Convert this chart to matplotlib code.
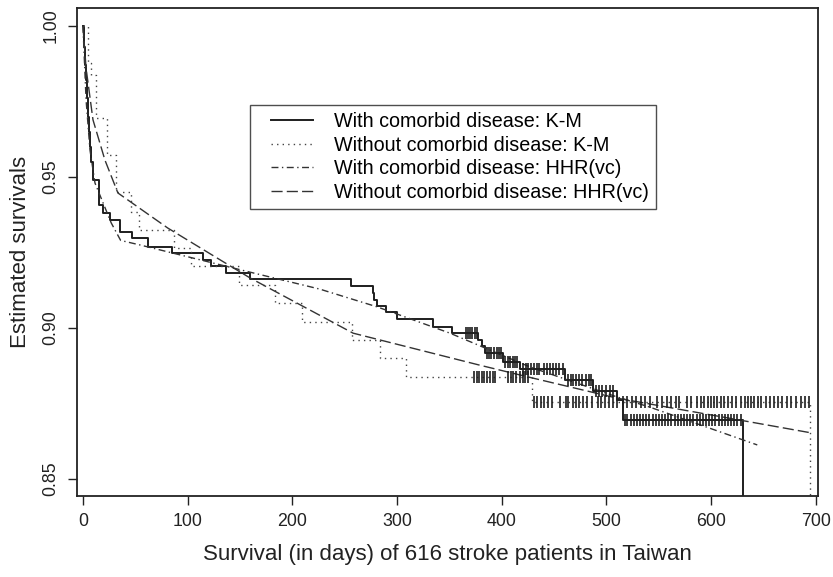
import numpy as np
import matplotlib
matplotlib.use("Agg")
import matplotlib.pyplot as plt
from matplotlib.lines import Line2D
from matplotlib.legend_handler import HandlerLine2D

# K-M step curves (day, survival)
with_km_days = [0, 1, 2, 3, 4, 5, 6, 7, 8, 9.5, 15, 19, 26, 35, 47, 62, 85, 115, 122, 137,
                160, 256, 277, 278, 281, 289, 300, 334, 352, 377, 381, 384, 401, 417, 460,
                487, 510, 516, 630]
with_km_surv = [1.0, 0.993, 0.987, 0.982, 0.976, 0.970, 0.965, 0.960, 0.955, 0.949, 0.9407,
                0.938, 0.9358, 0.9318, 0.9298, 0.9268, 0.9248, 0.9225, 0.9205, 0.9182, 0.9162,
                0.9139, 0.9116, 0.9093, 0.9073, 0.9053, 0.903, 0.9003, 0.8983, 0.896, 0.894,
                0.8917, 0.8887, 0.8864, 0.8828, 0.8791, 0.8762, 0.8695, 0.80]
with_cens = [366, 368, 370, 372, 374, 376, 386, 388, 390, 393, 395, 397, 399, 403, 406, 408,
             411, 413, 415, 420, 423, 425, 428, 431, 434, 436, 440, 443, 446, 449, 452, 455,
             458, 463, 466, 468, 471, 474, 477, 480, 483, 485, 490, 493, 496, 500, 503, 506,
             518, 520, 523, 526, 529, 532, 535, 538, 541, 544, 547, 550, 553, 556, 559, 562,
             565, 568, 571, 574, 577, 580, 583, 586, 589, 592, 595, 598, 601, 604, 607, 610,
             613, 616, 619, 622, 625, 628]

without_km_days = [0, 5, 8, 12, 23, 32, 46, 54, 87, 103, 149, 183, 209, 257, 284, 309, 429, 694]
without_km_surv = [1.0, 0.9877, 0.9838, 0.9695, 0.9573, 0.945, 0.9384, 0.9325, 0.9265, 0.9205,
                   0.9142, 0.9083, 0.902, 0.896, 0.890, 0.8838, 0.8755, 0.80]
without_cens = [373, 376, 378, 381, 383, 386, 389, 392, 394, 406, 409, 411, 414, 417, 420, 422,
                425, 431, 434, 437, 440, 444, 448, 456, 461, 463, 468, 471, 474, 478, 481, 486,
                492, 495, 499, 502, 506, 510, 516, 520, 524, 528, 533, 537, 542, 548, 553, 558,
                562, 566, 569, 577, 581, 586, 590, 593, 597, 600, 603, 606, 609, 612, 616, 620,
                624, 628, 632, 635, 638, 641, 645, 648, 652, 656, 660, 664, 668, 672, 676, 681,
                686, 690, 693]

# HHR(vc) fitted curves
with_hhr_days = [0, 3, 6.7, 11.5, 27, 36, 54.4, 159.5, 226, 281, 350.5, 427, 510, 541.5, 644]
with_hhr_surv = [1.0, 0.9755, 0.959, 0.948, 0.9348, 0.929, 0.9275, 0.9185, 0.9129, 0.907,
                 0.8983, 0.8871, 0.8772, 0.8738, 0.8613]
without_hhr_days = [0, 3, 9.6, 21, 33.4, 81, 128, 159.5, 195, 258, 379, 430, 510, 697]
without_hhr_surv = [1.0, 0.986, 0.9689, 0.9556, 0.9447, 0.9331, 0.9232, 0.9166, 0.910, 0.8983,
                    0.8877, 0.8834, 0.8768, 0.8652]

xticks = [0, 100, 200, 300, 400, 500, 600, 700]
yticks = [0.85, 0.90, 0.95, 1.00]


def step_at(days, surv, t):
    idx = np.searchsorted(days, t, side="right") - 1
    return np.asarray(surv)[idx]


plt.rcParams["font.family"] = ["Liberation Sans", "DejaVu Sans"]
fig = plt.figure(figsize=(8.33, 5.77), dpi=100)
ax = fig.add_axes([0.0924, 0.1404, 0.8896, 0.8466])

ink = "#1e1e1e"
ax.step(with_km_days, with_km_surv, where="post", color=ink, lw=1.4,
        label="With comorbid disease: K-M")
ax.step(without_km_days, without_km_surv, where="post", color="#444444", lw=1.0,
        dashes=(1, 3), label="Without comorbid disease: K-M")
ax.plot(with_hhr_days, with_hhr_surv, color="#333333", lw=1.0, dashes=(5, 2.5, 1, 2.5),
        label="With comorbid disease: HHR(vc)")
ax.plot(without_hhr_days, without_hhr_surv, color="#333333", lw=1.0, dashes=(8, 3),
        label="Without comorbid disease: HHR(vc)")

ax.plot(with_cens, step_at(with_km_days, with_km_surv, with_cens), ls="none",
        marker="|", ms=9, mew=1.2, color=ink)
ax.plot(without_cens, step_at(without_km_days, without_km_surv, without_cens), ls="none",
        marker="|", ms=9, mew=1.2, color=ink)

ax.set_xlim(-5.7, 702)
ax.set_ylim(0.8444, 1.0061)
ax.set_xticks(xticks)
ax.set_xticklabels([str(t) for t in xticks])
ax.set_yticks(yticks)
ax.set_yticklabels(["%.2f" % t for t in yticks], rotation=90, va="center")
ax.tick_params(direction="out", length=6.5, width=1, colors="#222222", labelsize=12.8, pad=6)
for s in ax.spines.values():
    s.set_linewidth(1.3)
    s.set_color("#222222")

ax.set_xlabel("Survival (in days) of 616 stroke patients in Taiwan", fontsize=16,
              color="#222222", labelpad=10)
ax.set_ylabel("Estimated survivals", fontsize=16, color="#222222", labelpad=8)

leg = ax.legend(loc="upper left", bbox_to_anchor=(250 / 833, 1 - 105 / 577),
                bbox_transform=fig.transFigure, fontsize=14.2, frameon=True, fancybox=False,
                edgecolor="#222222", handlelength=2.8, handletextpad=1.1, labelspacing=0.23,
                borderpad=0.37, borderaxespad=0,
                handler_map={Line2D: HandlerLine2D(xpad=0.7)})
leg.get_frame().set_linewidth(1.0)

fig.savefig("out.png", dpi=100)
